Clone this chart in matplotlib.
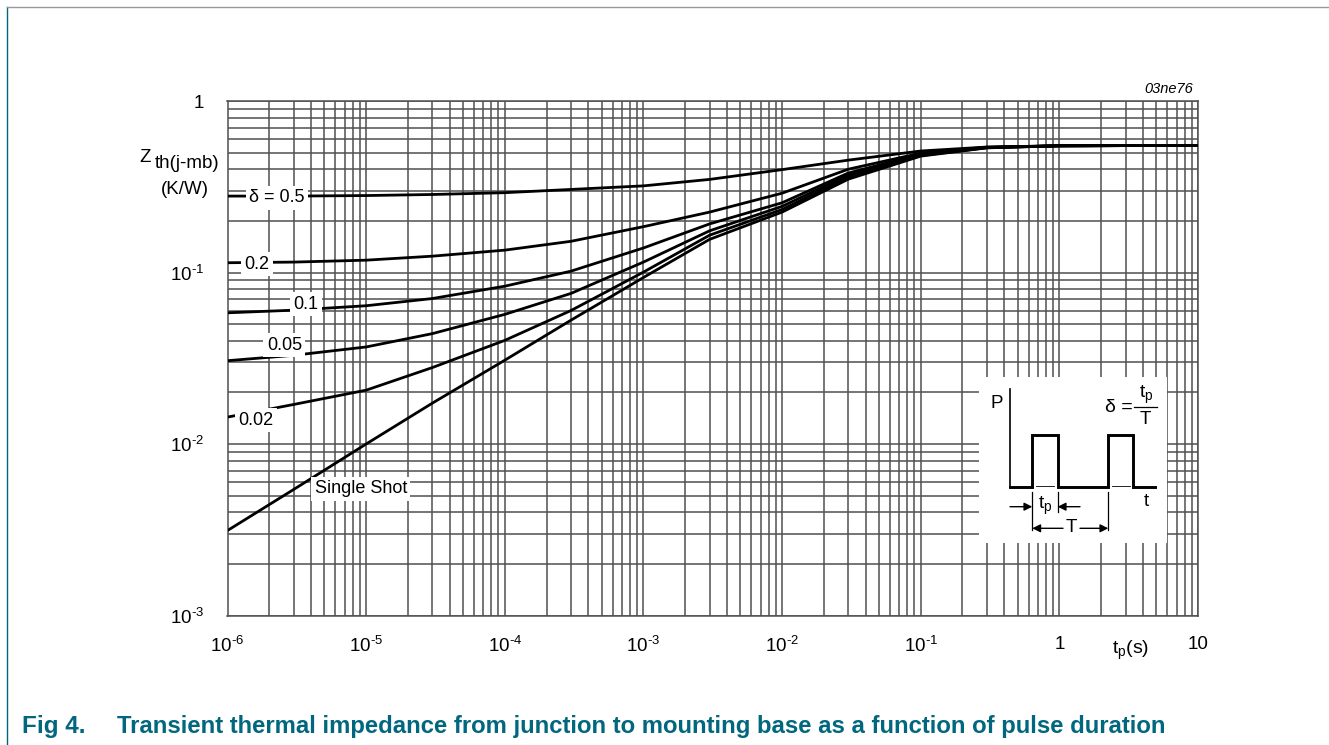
import matplotlib
matplotlib.use("Agg")
import matplotlib.pyplot as plt
from matplotlib.ticker import LogLocator, FixedLocator, FixedFormatter, NullFormatter
from matplotlib.lines import Line2D

plt.rcParams['font.family'] = ['Liberation Sans', 'DejaVu Sans']
plt.rcParams['mathtext.fontset'] = 'custom'
plt.rcParams['mathtext.rm'] = 'Liberation Sans'
plt.rcParams['mathtext.it'] = 'Liberation Sans:italic'

# ---------------- data ----------------
tp = [1e-6, 3e-6, 1e-5, 3e-5, 1e-4, 3e-4, 1e-3, 3e-3, 1e-2, 3e-2, 1e-1, 3e-1, 1, 10]
z_d05 = [0.279, 0.279, 0.281, 0.285, 0.292, 0.305, 0.320, 0.349, 0.398, 0.452, 0.511, 0.539, 0.548, 0.551]
z_d02 = [0.114, 0.115, 0.118, 0.1245, 0.135, 0.152, 0.185, 0.225, 0.290, 0.400, 0.497, 0.538, 0.548, 0.551]
z_d01 = [0.0582, 0.0603, 0.064, 0.0705, 0.0832, 0.1018, 0.139, 0.192, 0.255, 0.380, 0.490, 0.536, 0.548, 0.551]
z_d005 = [0.0306, 0.0329, 0.0368, 0.044, 0.057, 0.0755, 0.115, 0.175, 0.243, 0.370, 0.485, 0.535, 0.548, 0.551]
z_d002 = [0.01435, 0.0170, 0.0206, 0.0279, 0.0402, 0.060, 0.1005, 0.165, 0.233, 0.360, 0.481, 0.534, 0.548, 0.551]
z_single = [0.00313, 0.00543, 0.0100, 0.0173, 0.0308, 0.0527, 0.0935, 0.156, 0.225, 0.350, 0.477, 0.533, 0.548, 0.551]

series = [z_d05, z_d02, z_d01, z_d005, z_d002, z_single]
curve_labels = ["δ = 0.5", "0.2", "0.1", "0.05", "0.02", "Single Shot"]
label_pos_t = [2.27e-6, 1.63e-6, 3.66e-6, 2.57e-6, 1.6e-6, 9.14e-6]
label_pos_z = [0.272, 0.112, 0.0653, 0.0377, 0.01373, 0.00548]

x_ticks = [1e-6, 1e-5, 1e-4, 1e-3, 1e-2, 1e-1, 1, 10]
x_ticklabels = [r'$\mathregular{10^{\text{-}6}}$', r'$\mathregular{10^{\text{-}5}}$', r'$\mathregular{10^{\text{-}4}}$',
                r'$\mathregular{10^{\text{-}3}}$', r'$\mathregular{10^{\text{-}2}}$', r'$\mathregular{10^{\text{-}1}}$',
                '1', '10']
y_ticks = [1e-3, 1e-2, 1e-1, 1]
y_ticklabels = [r'$\mathregular{10^{\text{-}3}}$', r'$\mathregular{10^{\text{-}2}}$', r'$\mathregular{10^{\text{-}1}}$', '1']

W, H = 1329, 745
fig = plt.figure(figsize=(W / 100, H / 100), dpi=100)
fig.patch.set_facecolor('white')

ax = fig.add_axes([227.5 / W, 1 - 615.5 / H, (1198 - 227.5) / W, (615.5 - 101) / H])
ax.set_xscale('log')
ax.set_yscale('log')
ax.set_xlim(1e-6, 10)
ax.set_ylim(1e-3, 1)

grid_col = '#505050'
ax.xaxis.set_major_locator(FixedLocator(x_ticks))
ax.xaxis.set_major_formatter(FixedFormatter(x_ticklabels))
ax.yaxis.set_major_locator(FixedLocator(y_ticks))
ax.yaxis.set_major_formatter(FixedFormatter(y_ticklabels))
ax.xaxis.set_minor_locator(LogLocator(base=10, subs=range(2, 10), numticks=50))
ax.yaxis.set_minor_locator(LogLocator(base=10, subs=range(2, 10), numticks=50))
ax.xaxis.set_minor_formatter(NullFormatter())
ax.yaxis.set_minor_formatter(NullFormatter())
ax.tick_params(which='both', length=0)
ax.tick_params(axis='x', pad=15, labelsize=13.5)
ax.tick_params(axis='y', pad=17, labelsize=13.5)
ax.grid(which='both', color=grid_col, linewidth=1.1)
ax.set_axisbelow(True)
for s in ax.spines.values():
    s.set_color(grid_col)
    s.set_linewidth(1.1)

for z in series:
    ax.plot(tp, z, color='black', linewidth=2.0, solid_capstyle='butt',
            solid_joinstyle='round', zorder=3)

for lab, lt, lz in zip(curve_labels, label_pos_t, label_pos_z):
    ax.text(lt, lz, lab, fontsize=13, ha='center', va='center', zorder=5,
            bbox=dict(facecolor='white', edgecolor='none', pad=2.5))

# axis titles
fig.text(139 / W, 1 - 157 / H, 'Z', fontsize=13.5, ha='left', va='center')
fig.text(155 / W, 1 - 164 / H, 'th(j-mb)', fontsize=13.5, ha='left', va='center')
fig.text(185 / W, 1 - 189 / H, '(K/W)', fontsize=13.5, ha='center', va='center')
fig.text(1131 / W, 1 - 650 / H, r'$\mathregular{t_{p}(s)}$', fontsize=14, ha='center', va='center')
fig.text(1193 / W, 1 - 89 / H, '03ne76', fontsize=10.5, style='italic', ha='right', va='center')

# caption
cap_col = '#00677f'
fig.text(22 / W, 1 - 727 / H, 'Fig 4.', fontsize=17.5, fontweight='bold', color=cap_col, va='center')
fig.text(117 / W, 1 - 727 / H,
         'Transient thermal impedance from junction to mounting base as a function of pulse duration',
         fontsize=17.2, fontweight='bold', color=cap_col, va='center')

# frame lines
fig.add_artist(Line2D([7 / W, 7 / W], [0, 1 - 7 / H], color=cap_col, linewidth=1.0))
fig.add_artist(Line2D([7 / W, 1], [1 - 7 / H, 1 - 7 / H], color='#9a9a9a', linewidth=1.0))

# inset pulse diagram (schematic, in its own pixel-like coordinates)
ins = fig.add_axes([979 / W, 1 - 543 / H, (1167 - 979) / W, (543 - 377) / H])
ins.set_xlim(979, 1167)
ins.set_ylim(543, 377)
ins.set_facecolor('white')
ins.set_xticks([])
ins.set_yticks([])
for s in ins.spines.values():
    s.set_visible(False)

base, top = 486.7, 435.3
px = [1010.3, 1032.3, 1032.3, 1057.7, 1057.7, 1108.3, 1108.3, 1133.3, 1133.3, 1155]
py = [base, base, top, top, base, base, top, top, base, base]
ins.plot(px, py, color='black', linewidth=2.1, solid_joinstyle='miter')
ins.plot([1010.3, 1010.3], [389.3, base], color='black', linewidth=1.2)
ins.plot([1036, 1054], [base - 1, base - 1], color='black', linewidth=0.6)
ins.plot([1112, 1130], [base - 1, base - 1], color='black', linewidth=0.6)
# dimension lines
ins.plot([1032.3, 1032.3], [491.7, 530], color='black', linewidth=0.9)
ins.plot([1057.7, 1057.7], [491.7, 512], color='black', linewidth=0.9)
ins.plot([1108.3, 1108.3], [491.7, 530], color='black', linewidth=0.9)
ap = dict(arrowstyle='-|>', color='black', lw=1.0, mutation_scale=12, shrinkA=0, shrinkB=0)
ins.annotate('', xy=(1032.3, 506.7), xytext=(1010, 506.7), arrowprops=ap)
ins.annotate('', xy=(1057.7, 506.7), xytext=(1080, 506.7), arrowprops=ap)
ins.annotate('', xy=(1032.3, 528.3), xytext=(1063, 528.3), arrowprops=ap)
ins.annotate('', xy=(1108.3, 528.3), xytext=(1080, 528.3), arrowprops=ap)
ins.text(1045, 506, r'$\mathregular{t_{p}}$', fontsize=14, ha='center', va='center')
ins.text(1071, 527, 'T', fontsize=13.5, ha='center', va='center')
ins.text(1146.7, 502, 't', fontsize=13.5, ha='center', va='center')
ins.text(996.7, 403, 'P', fontsize=13.5, ha='center', va='center')
ins.text(1119, 408, 'δ =', fontsize=14, ha='center', va='center')
ins.text(1146, 395, r'$\mathregular{t_{p}}$', fontsize=14, ha='center', va='center')
ins.plot([1134, 1157], [406.7, 406.7], color='black', linewidth=0.9)
ins.text(1145.5, 420, 'T', fontsize=13.5, ha='center', va='center')

fig.savefig('out.png', dpi=100, facecolor='white')
